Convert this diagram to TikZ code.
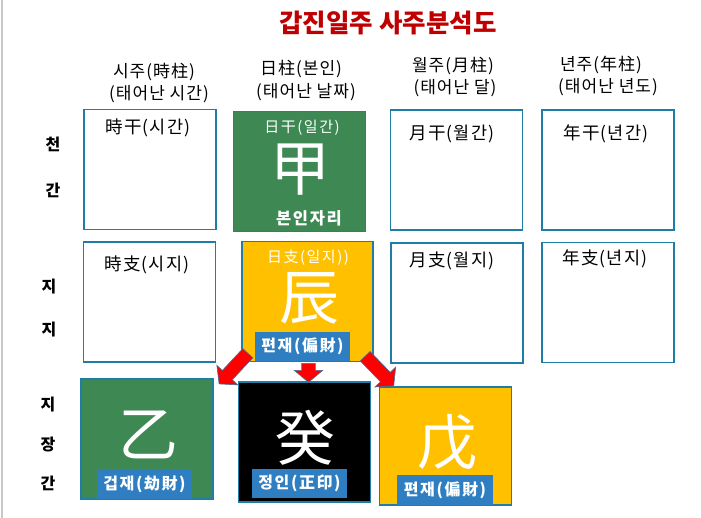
\documentclass[tikz,border=0pt]{standalone}
\usepackage{fontspec}
\setmainfont{Noto Sans CJK KR}
\newfontfamily\spaced[LetterSpace=6]{Noto Sans CJK KR}
\newfontfamily\wider[LetterSpace=10]{Noto Sans CJK KR}
\usetikzlibrary{shapes.arrows}
\definecolor{boxline}{RGB}{31,126,166}
\definecolor{ggreen}{RGB}{61,136,83}
\definecolor{gyellow}{RGB}{255,192,0}
\definecolor{lblue}{RGB}{46,126,193}
\definecolor{tred}{RGB}{192,0,0}
\definecolor{aline}{RGB}{65,113,156}
\definecolor{edge}{RGB}{200,200,200}
\tikzset{
  cell/.style={draw=boxline, line width=1.1pt, minimum width=132pt, minimum height=120pt, inner sep=0pt},
  hdr/.style={font=\spaced\fontsize{17}{19}\selectfont, inner sep=0pt},
  lbl/.style={font=\spaced\fontsize{17.5}{19}\selectfont, inner sep=0pt},
  small/.style={font=\wider\fontsize{15}{17}\selectfont, text=white, inner sep=0pt},
  side/.style={font=\bfseries\fontsize{16}{18}\selectfont, inner sep=0pt},
  big/.style={font=\fontsize{60}{62}\selectfont, text=white, inner sep=0pt},
  tag/.style={fill=lblue, text=white, font=\wider\bfseries\fontsize{16}{18}\selectfont, minimum width=95pt, minimum height=29pt, inner sep=0pt},
  fat/.style={single arrow, fill=red, draw=aline, line width=0.6pt, inner xsep=0pt, inner ysep=6.5pt,
    single arrow head extend=7.5pt, single arrow tip angle=100, sloped, allow upside down, pos=0, anchor=tail}
}
\begin{document}
\begin{tikzpicture}[x=1pt,y=-1pt]
\useasboundingbox (0,0) rectangle (701,518);
\fill[white] (0,0) rectangle (701,518);
\draw[edge, line width=1.5pt] (2,0) -- (2,518);

\node[font=\bfseries\fontsize{25.5}{27}\selectfont, text=tred, inner sep=0pt] (title) at (388,23) {갑진일주 사주분석도};

\node[hdr] (h1a) at (154,72) {시주(時柱)};
\node[hdr] (h1b) at (159,94) {(태어난 시간)};
\node[hdr] (h2a) at (301,69) {日柱(본인)};
\node[hdr] (h2b) at (306,92) {(태어난 날짜)};
\node[hdr] (h3a) at (453,66) {월주(月柱)};
\node[hdr] (h3b) at (455,88) {(태어난 달)};
\node[hdr] (h4a) at (601,65) {년주(年柱)};
\node[hdr] (h4b) at (608,87) {(태어난 년도)};

\node[side] (s1) at (53,144) {천};
\node[side] (s2) at (53,190) {간};
\node[side] (s3) at (49,287) {지};
\node[side] (s4) at (49,330) {지};
\node[side] (s5) at (48,405) {지};
\node[side] (s6) at (48,445) {장};
\node[side] (s7) at (48,483) {간};

\node[cell] (b11) at (150,169.5) {};
\node[cell, fill=ggreen] (b12) at (299.5,171.5) {};
\node[cell] (b13) at (456.5,170) {};
\node[cell] (b14) at (608,170) {};
\node[cell] (b21) at (149.5,302) {};
\node[cell, fill=gyellow, minimum width=131pt] (b22) at (307.5,301.5) {};
\node[cell] (b23) at (457,303) {};
\node[cell] (b24) at (608,302.5) {};
\node[cell, fill=ggreen] (b31) at (147,439) {};
\node[cell, fill=black] (b32) at (304.5,442) {};
\node[cell, fill=gyellow, minimum height=118pt] (b33) at (445.5,446) {};

\node[lbl] (t11) at (148,128) {時干(시간)};
\node[small] (t12) at (302,127.5) {日干(일간)};
\node[big] (c12) at (300,170) {甲};
\node[lbl, text=white, font=\wider\bfseries\fontsize{16.5}{18}\selectfont] (s12) at (309,218.5) {본인자리};
\node[lbl] (t13) at (452,134) {月干(월간)};
\node[lbl] (t14) at (606,134) {年干(년간)};
\node[lbl] (t21) at (147,265) {時支(시지)};
\node[small] (t22) at (308,258) {日支(일지))};
\node[big] (c22) at (309,298) {辰};
\node[tag] (g22) at (302.5,346.5) {편재(偏財)};
\node[lbl] (t23) at (452,261) {月支(월지)};
\node[lbl] (t24) at (605,259) {年支(년지)};
\node[big] (c31) at (148,435) {乙};
\node[tag, minimum height=30pt] (g31) at (144.5,484) {겁재(劫財)};
\node[big] (c32) at (305,437.5) {癸};
\node[tag] (g32) at (299.5,483.5) {정인(正印)};
\node[big] (c33) at (447,442) {戊};
\node[tag, minimum height=30pt, minimum width=96pt] (g33) at (445,490) {편재(偏財)};

\coordinate (a1s) at (248,353);
\coordinate (a1e) at (219,384);
\coordinate (a2s) at (308.5,363);
\coordinate (a2e) at (308.5,382);
\coordinate (a3s) at (365,356);
\coordinate (a3e) at (394,386);
\path (a1s) -- (a1e) node[fat, minimum height=42pt] (ar1) {};
\path (a2s) -- (a2e) node[fat, minimum height=19pt] (ar2) {};
\path (a3s) -- (a3e) node[fat, minimum height=41pt] (ar3) {};
\end{tikzpicture}
\end{document}
